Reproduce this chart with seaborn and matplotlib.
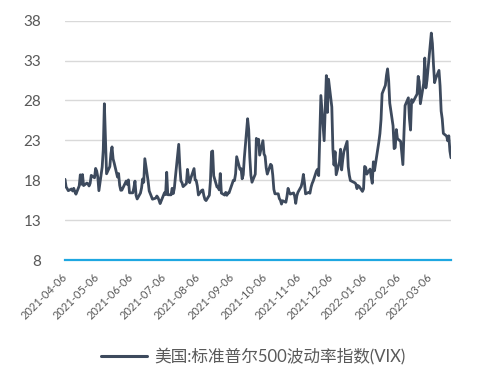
import matplotlib
matplotlib.use("Agg")
import matplotlib.pyplot as plt
import seaborn as sns
import pandas as pd
from matplotlib.lines import Line2D

dates = [
    "2021-04-06","2021-04-07","2021-04-08","2021-04-09","2021-04-12","2021-04-13","2021-04-14","2021-04-15","2021-04-16",
    "2021-04-19","2021-04-20","2021-04-21","2021-04-22","2021-04-23","2021-04-26","2021-04-27","2021-04-28","2021-04-29","2021-04-30",
    "2021-05-03","2021-05-04","2021-05-05","2021-05-06","2021-05-07","2021-05-10","2021-05-11","2021-05-12","2021-05-13","2021-05-14",
    "2021-05-17","2021-05-18","2021-05-19","2021-05-20","2021-05-21","2021-05-24","2021-05-25","2021-05-26","2021-05-27","2021-05-28",
    "2021-06-01","2021-06-02","2021-06-03","2021-06-04","2021-06-07","2021-06-08","2021-06-09","2021-06-10","2021-06-11",
    "2021-06-14","2021-06-15","2021-06-16","2021-06-17","2021-06-18","2021-06-21","2021-06-22","2021-06-23","2021-06-24","2021-06-25",
    "2021-06-28","2021-06-29","2021-06-30",
    "2021-07-01","2021-07-02","2021-07-06","2021-07-07","2021-07-08","2021-07-09","2021-07-12","2021-07-13","2021-07-14","2021-07-15",
    "2021-07-16","2021-07-19","2021-07-20","2021-07-21","2021-07-22","2021-07-23","2021-07-26","2021-07-27","2021-07-28","2021-07-29","2021-07-30",
    "2021-08-02","2021-08-03","2021-08-04","2021-08-05","2021-08-06","2021-08-09","2021-08-10","2021-08-11","2021-08-12","2021-08-13",
    "2021-08-16","2021-08-17","2021-08-18","2021-08-19","2021-08-20","2021-08-23","2021-08-24","2021-08-25","2021-08-26","2021-08-27",
    "2021-08-30","2021-08-31",
    "2021-09-01","2021-09-02","2021-09-03","2021-09-07","2021-09-08","2021-09-09","2021-09-10","2021-09-13","2021-09-14","2021-09-15",
    "2021-09-16","2021-09-17","2021-09-20","2021-09-21","2021-09-22","2021-09-23","2021-09-24","2021-09-27","2021-09-28","2021-09-29","2021-09-30",
    "2021-10-01","2021-10-04","2021-10-05","2021-10-06","2021-10-07","2021-10-08","2021-10-11","2021-10-12","2021-10-13","2021-10-14",
    "2021-10-15","2021-10-18","2021-10-19","2021-10-20","2021-10-21","2021-10-22","2021-10-25","2021-10-26","2021-10-27","2021-10-28","2021-10-29",
    "2021-11-01","2021-11-02","2021-11-03","2021-11-04","2021-11-05","2021-11-08","2021-11-09","2021-11-10","2021-11-11","2021-11-12",
    "2021-11-15","2021-11-16","2021-11-17","2021-11-18","2021-11-19","2021-11-22","2021-11-23","2021-11-24","2021-11-26","2021-11-29","2021-11-30",
    "2021-12-01","2021-12-02","2021-12-03","2021-12-06","2021-12-07","2021-12-08","2021-12-09","2021-12-10","2021-12-13","2021-12-14",
    "2021-12-15","2021-12-16","2021-12-17","2021-12-20","2021-12-21","2021-12-22","2021-12-23","2021-12-27","2021-12-28","2021-12-29",
    "2021-12-30","2021-12-31",
    "2022-01-03","2022-01-04","2022-01-05","2022-01-06","2022-01-07","2022-01-10","2022-01-11","2022-01-12","2022-01-13","2022-01-14",
    "2022-01-18","2022-01-19","2022-01-20","2022-01-21","2022-01-24","2022-01-25","2022-01-26","2022-01-27","2022-01-28","2022-01-31",
    "2022-02-01","2022-02-02","2022-02-03","2022-02-04","2022-02-07","2022-02-08","2022-02-09","2022-02-10","2022-02-11","2022-02-14",
    "2022-02-15","2022-02-16","2022-02-17","2022-02-18","2022-02-22","2022-02-23","2022-02-24","2022-02-25","2022-02-28",
    "2022-03-01","2022-03-02","2022-03-03","2022-03-04","2022-03-07","2022-03-08","2022-03-09","2022-03-10","2022-03-11","2022-03-14",
    "2022-03-15","2022-03-16","2022-03-17","2022-03-18","2022-03-21","2022-03-22","2022-03-23","2022-03-24","2022-03-25",
]

vix = [
    18.12,17.16,16.95,16.69,16.91,16.65,16.99,16.57,16.25,
    17.29,18.68,17.50,18.71,17.33,17.64,17.56,17.28,17.61,18.61,
    18.31,19.48,19.15,18.39,16.69,19.66,21.84,27.59,23.13,18.81,
    19.72,21.34,22.18,20.67,20.15,18.40,18.84,17.36,16.74,16.76,
    17.90,17.48,18.04,16.42,16.42,17.07,17.89,16.10,15.65,
    16.39,17.02,18.15,17.75,20.70,17.89,16.66,16.32,15.97,15.62,
    15.76,16.02,15.83,
    15.48,15.07,16.44,16.20,19.00,16.18,16.17,16.99,16.33,17.01,
    18.45,22.50,19.73,17.91,17.69,17.20,17.58,19.36,18.31,17.70,18.24,
    19.46,18.04,17.97,17.28,16.15,16.72,16.79,16.06,15.59,15.45,
    16.12,17.91,21.57,21.67,18.56,17.15,17.22,16.79,18.84,16.39,
    16.14,16.48,
    16.11,16.41,16.41,18.00,17.96,18.80,20.95,19.37,19.46,18.18,
    18.69,20.81,25.71,24.36,20.87,18.63,17.75,18.76,23.25,22.56,23.14,
    21.15,22.96,21.30,21.00,19.54,18.77,20.00,19.85,18.64,16.86,
    16.30,16.30,15.70,15.49,15.01,15.43,15.24,15.98,16.98,16.53,16.26,
    16.41,16.03,15.10,16.04,16.48,17.22,17.78,18.73,17.66,16.29,
    16.49,16.37,17.11,17.59,17.91,19.17,19.38,18.58,28.62,22.96,27.19,
    31.12,26.50,30.67,27.18,21.89,19.90,21.58,18.69,20.31,21.89,
    19.29,20.57,21.57,22.87,19.70,18.63,17.96,17.68,17.54,16.95,
    17.33,17.22,
    16.60,16.91,19.73,19.61,18.76,19.40,18.41,17.62,20.31,19.19,
    22.79,23.85,25.59,28.85,29.90,31.16,31.96,30.49,27.66,24.83,
    21.96,22.09,24.35,23.22,22.86,21.44,19.96,23.91,27.36,28.33,
    25.70,24.29,28.11,27.75,28.81,31.02,30.32,27.59,30.15,
    33.32,29.57,30.48,31.98,36.45,35.13,32.45,30.23,30.75,31.77,
    29.83,26.67,25.67,23.87,23.53,22.94,23.57,21.67,20.81,
]

tick_labels = ["2021-04-06","2021-05-06","2021-06-06","2021-07-06","2021-08-06","2021-09-06",
               "2021-10-06","2021-11-06","2021-12-06","2022-01-06","2022-02-06","2022-03-06"]
y_ticks = [8, 13, 18, 23, 28, 33, 38]
series_name = "美国:标准普尔500波动率指数(VIX)"

df = pd.DataFrame({"date": pd.to_datetime(dates), "value": vix, "series": series_name})

sns.set_theme(style="white")
plt.rcParams["font.family"] = ["Lato", "Noto Sans CJK SC", "DejaVu Sans"]

fig = plt.figure(figsize=(4.99, 3.70), dpi=100)
ax = fig.add_axes([65/499, 1 - 260/370, (451-65)/499, (260-20.7)/370])

sns.lineplot(data=df, x="date", y="value", hue="series", palette=["#3d4a5d"],
             linewidth=2.0, ax=ax, legend=False)

ax.set_xlim(df["date"].iloc[0], df["date"].iloc[-1])
ax.set_ylim(8, 38)
ax.set_yticks(y_ticks)
ax.set_yticklabels([str(v) for v in y_ticks], fontsize=11, color="#595959")
for yv in y_ticks[1:]:
    ax.axhline(yv, color="#d9d9d9", linewidth=1.0, zorder=0)

ax.set_xticks(pd.to_datetime(tick_labels))
ax.set_xticklabels(tick_labels, rotation=45, ha="right", va="center",
                   rotation_mode="anchor", fontsize=8, color="#595959")
ax.tick_params(axis="both", length=0)
ax.tick_params(axis="y", pad=17)
ax.tick_params(axis="x", pad=11)

for s in ["top", "right", "left"]:
    ax.spines[s].set_visible(False)
ax.spines["bottom"].set_color("#1ea7e1")
ax.spines["bottom"].set_linewidth(1.6)
ax.set_xlabel("")
ax.set_ylabel("")

handle = Line2D([0], [0], color="#3d4a5d", linewidth=2.2)
fig.legend([handle], [series_name], loc="center", bbox_to_anchor=(0.507, 0.038),
           frameon=False, fontsize=12, handlelength=2.8, handletextpad=0.4,
           labelcolor="#595959")

fig.savefig("out.png", dpi=100)
